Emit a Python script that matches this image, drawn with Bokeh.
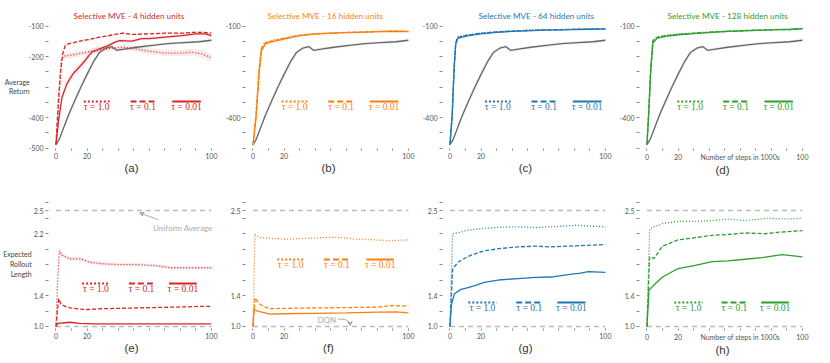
from bokeh.plotting import figure
from bokeh.layouts import gridplot
from bokeh.models import Label, FixedTicker, Range1d, Arrow, VeeHead, Title
from bokeh.embed import file_html
from bokeh.resources import INLINE

# ---------------- DATA ----------------
# shared DQN baseline (grey) for average return, steps in 1000s
steps_base = [0, 2, 5, 8, 12, 16, 20, 24, 28, 32, 36, 39, 44, 52, 62, 72, 82, 92, 100]
ret_base = [-488, -472, -432, -392, -345, -300, -258, -218, -186, -172, -167, -179, -175, -169, -163, -157, -154, -151, -146]
ret_base_sd = [2, 5, 9, 11, 12, 12, 12, 10, 8, 6, 5, 5, 5, 5, 5, 5, 5, 5, 5]

# (a) 4 hidden units
steps4_t1 = [0, 1.5, 3.4, 5, 8, 12, 17, 22, 28, 33, 38, 44, 51, 60, 70, 81, 87, 94, 100]
ret4_t1 = [-488, -380, -213, -198, -196, -193, -188, -183, -177, -174, -171, -169, -174, -182, -188, -188, -185, -191, -204]
ret4_t1_sd = [0, 8, 10, 10, 10, 9, 9, 8, 8, 8, 8, 8, 9, 10, 10, 10, 11, 12, 14]
steps4_t01 = [0, 1.5, 2.8, 4.3, 6, 8, 12, 17, 22, 28, 33, 38, 43, 49, 60, 70, 81, 88, 94, 100]
ret4_t01 = [-488, -350, -256, -191, -163, -158, -153, -147, -143, -136, -132, -127, -123, -127, -125, -123, -123, -120, -120, -123]
ret4_t01_sd = [0, 4, 4, 4, 3, 3, 3, 3, 3, 3, 3, 3, 3, 3, 3, 3, 3, 3, 3, 3]
steps4_t001 = [0, 1.7, 3.9, 7, 11, 17, 23, 28, 34, 38, 41, 49, 55, 60, 70, 81, 90, 96, 100]
ret4_t001 = [-488, -409, -333, -289, -256, -223, -185, -174, -163, -152, -147, -149, -141, -141, -136, -131, -125, -125, -131]
ret4_t001_sd = [0, 6, 12, 14, 14, 13, 11, 9, 7, 6, 6, 5, 5, 5, 5, 5, 5, 5, 5]

# (b) 16 hidden units
steps16 = [0, 2, 4, 5.5, 8, 12, 20, 30, 40, 50, 60, 70, 80, 90, 100]
ret16_t1 = [-490, -380, -230, -168, -152, -147, -138, -129, -124, -122, -121, -118, -117, -115, -116]
ret16_t01 = [-490, -390, -240, -172, -155, -149, -140, -130, -125, -123, -120, -119, -118, -116, -117]
ret16_t001 = [-490, -400, -252, -180, -158, -151, -142, -131, -126, -123, -121, -120, -118, -117, -118]

# (c) 64 hidden units
steps64 = [0, 1.5, 2.6, 3.7, 5, 8, 12, 20, 30, 40, 50, 60, 70, 80, 90, 100]
ret64_t1 = [-488, -380, -233, -150, -135, -131, -128, -122, -118, -116, -113, -112, -111, -110, -109, -108]
ret64_t01 = [-488, -385, -240, -155, -137, -133, -129, -123, -119, -116, -114, -112, -112, -110, -110, -109]
ret64_t001 = [-488, -390, -250, -160, -140, -136, -131, -125, -120, -117, -115, -113, -112, -111, -110, -109]

# (d) 128 hidden units
steps128 = [0, 1.2, 2.4, 3.8, 6.6, 12, 20, 30, 42, 52, 63, 75, 85, 92, 100]
ret128_t1 = [-488, -370, -234, -145, -135, -130, -126, -122, -118, -116, -114, -113, -110, -112, -107]
ret128_t01 = [-488, -375, -240, -148, -137, -131, -127, -123, -119, -117, -114, -112, -111, -111, -108]
ret128_t001 = [-488, -380, -250, -155, -139, -133, -128, -124, -120, -117, -115, -113, -111, -110, -108]

# (e) expected rollout length, 4 hidden units
lsteps4_t1 = [0, 1, 2.2, 4, 9, 16, 22, 31, 41, 52, 63, 74, 85, 100]
len4_t1 = [1.0, 1.55, 1.98, 1.92, 1.875, 1.875, 1.83, 1.81, 1.80, 1.80, 1.79, 1.76, 1.76, 1.76]
len4_t1_sd = [0, 0.02, 0.03, 0.03, 0.025, 0.025, 0.02, 0.02, 0.02, 0.02, 0.02, 0.02, 0.02, 0.02]
lsteps4_t01 = [0, 1.7, 3.2, 6, 9, 15, 20, 30, 40, 52, 63, 74, 85, 92, 100]
len4_t01 = [1.0, 1.36, 1.29, 1.26, 1.24, 1.225, 1.22, 1.23, 1.235, 1.24, 1.245, 1.25, 1.255, 1.26, 1.26]
lsteps4_t001 = [0, 1.3, 4, 9, 15, 25, 50, 75, 100]
len4_t001 = [1.0, 1.04, 1.045, 1.055, 1.04, 1.034, 1.034, 1.034, 1.034]

# (f) 16 hidden units
lsteps16_t1 = [0, 1.3, 3, 5, 10, 22, 35, 50, 58, 65, 75, 87, 100]
len16_t1 = [1.0, 2.20, 2.17, 2.15, 2.14, 2.13, 2.14, 2.155, 2.15, 2.13, 2.125, 2.11, 2.12]
lsteps16_t01 = [0, 1.3, 3, 5, 8, 11, 20, 40, 60, 80, 89, 100]
len16_t01 = [1.0, 1.37, 1.32, 1.28, 1.25, 1.23, 1.235, 1.24, 1.245, 1.25, 1.27, 1.265]
lsteps16_t001 = [0, 0.6, 1.7, 5, 11, 20, 40, 60, 80, 92, 100]
len16_t001 = [1.0, 1.23, 1.21, 1.19, 1.16, 1.165, 1.17, 1.175, 1.185, 1.19, 1.175]

# (g) 64 hidden units
lsteps64_t1 = [0, 1.7, 5, 11, 22, 33, 44, 55, 65, 75, 81, 89, 100]
len64_t1 = [1.0, 2.20, 2.21, 2.245, 2.27, 2.285, 2.29, 2.28, 2.29, 2.30, 2.31, 2.30, 2.29]
lsteps64_t01 = [0, 1.7, 5, 11, 16, 22, 33, 44, 55, 65, 76, 88, 100]
len64_t01 = [1.0, 1.74, 1.83, 1.90, 1.94, 1.98, 2.01, 2.03, 2.04, 2.03, 2.04, 2.05, 2.06]
lsteps64_t001 = [0, 1, 2.8, 7, 11, 16, 22, 33, 44, 55, 65, 76, 84, 89, 100]
len64_t001 = [1.0, 1.29, 1.42, 1.48, 1.50, 1.53, 1.57, 1.605, 1.62, 1.635, 1.64, 1.67, 1.69, 1.71, 1.70]

# (h) 128 hidden units
lsteps128_t1 = [0, 1.7, 4.5, 10, 20, 31, 42, 52, 63, 78, 89, 100]
len128_t1 = [1.0, 2.26, 2.29, 2.33, 2.36, 2.36, 2.37, 2.39, 2.37, 2.40, 2.39, 2.40]
lsteps128_t01 = [0, 1.7, 4.5, 10, 20, 31, 42, 52, 63, 76, 85, 100]
len128_t01 = [1.0, 1.90, 1.88, 2.04, 2.12, 2.15, 2.18, 2.19, 2.21, 2.20, 2.22, 2.24]
lsteps128_t001 = [0, 1.3, 5.6, 10, 20, 31, 42, 52, 63, 74, 87, 100]
len128_t001 = [1.0, 1.47, 1.56, 1.64, 1.75, 1.79, 1.84, 1.85, 1.87, 1.89, 1.93, 1.90]

# reference levels in the rollout-length row
uniform_average = 2.5
dqn_length = 1.0
ref_span = [0, 100]

# ticks and labels
step_ticks = [0, 10, 20, 30, 40, 50, 60, 70, 80, 90, 100]
step_labels = {0: "0", 20: "20", 100: "100"}
step_labels_last = {0: "0", 20: "20", 60: "Number of steps in 1000s", 100: "100"}
ret_ticks = [-500, -450, -400, -350, -300, -250, -200, -150, -100]
ret_labels_first = {-100: "-100", -200: "-200", -400: "-400", -500: "-500"}
ret_labels_other = {-100: "-100", -400: "-400"}
len_ticks = [1.0, 1.2, 1.4, 1.6, 1.8, 2.0, 2.2, 2.4, 2.5, 2.6]
len_labels_first = {1.0: "1.0", 1.4: "1.4", 2.2: "2.2", 2.5: "2.5"}
len_labels_other = {1.0: "1.0", 1.4: "1.4", 2.5: "2.5"}

titles = ["Selective MVE - 4 hidden units", "Selective MVE - 16 hidden units",
          "Selective MVE - 64 hidden units", "Selective MVE - 128 hidden units"]
captions_top = ["(a)", "(b)", "(c)", "(d)"]
captions_bottom = ["(e)", "(f)", "(g)", "(h)"]
tau_labels = ["\u03c4 = 1.0", "\u03c4 = 0.1", "\u03c4 = 0.01"]
ylabel_top = "Average\nReturn"
ylabel_bottom = "Expected\nRollout\nLength"

# ---------------- STYLE / LAYOUT ----------------
colors = ["#d62728", "#ff7f0e", "#1f77b4", "#2ca02c"]
curve_dash = ["1 2", "4 2", "solid"]
legend_dash = ["2 2", "6 3", "solid"]
FONT = "Lato"
TICK_COLOR = "#555555"

FRAME_W = 166
X_RANGE = (-4.8, 102)
TOP_RANGE = (-501, -94.4)
BOT_RANGE = (0.974, 2.643)

title_offset = [25, 22, 36, 28]

leg_top_x = [[17.9, 48, 74.8], [18.4, 48.4, 75.2], [22.5, 52.5, 79], [19.5, 49, 75.6]]
leg_top_x1 = [[34.5, 64, 93.2], [35.1, 65.1, 93.4], [39, 68.6, 97.5], [36, 65.6, 93.9]]
leg_top_line_y, leg_top_text_y = -347, -365
leg_bot_x = [[16.8, 46.9, 72.7], [15.6, 45.7, 73], [11.8, 42.6, 69], [17.6, 48, 73.5]]
leg_bot_x1 = [[34.6, 63, 90.6], [32.8, 62.4, 90.7], [30, 59.4, 87.2], [36, 64.5, 91.3]]
leg_bot_line_y = [1.556, 1.867, 1.31, 1.31]
leg_bot_text_y = [1.485, 1.80, 1.242, 1.242]

top_series = [
    [(steps4_t1, ret4_t1, ret4_t1_sd), (steps4_t01, ret4_t01, ret4_t01_sd), (steps4_t001, ret4_t001, ret4_t001_sd)],
    [(steps16, ret16_t1, None), (steps16, ret16_t01, None), (steps16, ret16_t001, None)],
    [(steps64, ret64_t1, None), (steps64, ret64_t01, None), (steps64, ret64_t001, None)],
    [(steps128, ret128_t1, None), (steps128, ret128_t01, None), (steps128, ret128_t001, None)],
]
bot_series = [
    [(lsteps4_t1, len4_t1, len4_t1_sd), (lsteps4_t01, len4_t01, None), (lsteps4_t001, len4_t001, None)],
    [(lsteps16_t1, len16_t1, None), (lsteps16_t01, len16_t01, None), (lsteps16_t001, len16_t001, None)],
    [(lsteps64_t1, len64_t1, None), (lsteps64_t01, len64_t01, None), (lsteps64_t001, len64_t001, None)],
    [(lsteps128_t1, len128_t1, None), (lsteps128_t01, len128_t01, None), (lsteps128_t001, len128_t001, None)],
]


def add_text(p, x, y, text, size, color, align="center", font=FONT):
    p.add_layout(Label(x=x, y=y, text=text, text_font=font, text_font_size=f"{size}px",
                       text_color=color, text_align=align, text_baseline="middle"))


def make_fig(col, row):
    bl = 45 if col == 0 else 25
    br = 16 if col == 3 else 6
    if row == 0:
        bt, fh, bb, yr = 24, 124, 30, TOP_RANGE
    else:
        bt, fh, bb, yr = 21, 129, 33, BOT_RANGE
    p = figure(frame_width=FRAME_W, frame_height=fh,
               x_range=Range1d(*X_RANGE), y_range=Range1d(*yr),
               min_border_left=bl, min_border_right=br, min_border_top=bt, min_border_bottom=bb,
               toolbar_location=None, output_backend="svg")
    p.outline_line_color = None
    p.xgrid.visible = False
    p.ygrid.visible = False
    p.background_fill_color = "white"
    p.border_fill_color = "white"
    # axes
    p.xaxis.ticker = FixedTicker(ticks=step_ticks)
    slab = step_labels_last if col == 3 else step_labels
    p.xaxis.major_label_overrides = {t: slab.get(t, "") for t in step_ticks}
    if row == 0:
        p.yaxis.ticker = FixedTicker(ticks=ret_ticks)
        lab = ret_labels_first if col == 0 else ret_labels_other
        p.yaxis.major_label_overrides = {t: lab.get(t, "") for t in ret_ticks}
    else:
        p.yaxis.ticker = FixedTicker(ticks=len_ticks)
        lab = len_labels_first if col == 0 else len_labels_other
        p.yaxis.major_label_overrides = {t: lab.get(t, "") for t in len_ticks}
    for ax in (p.xaxis[0], p.yaxis[0]):
        ax.axis_line_color = None
        ax.major_tick_line_color = "#888888"
        ax.major_tick_line_width = 1
        ax.major_tick_in = 0
        ax.minor_tick_line_color = None
        ax.major_label_text_font = FONT
        ax.major_label_text_font_size = "7px"
        ax.major_label_text_color = TICK_COLOR
    p.xaxis.major_tick_out = 2
    p.xaxis.major_label_standoff = 2
    p.yaxis.major_tick_out = 3
    p.yaxis.major_label_standoff = 2
    # panel caption as the x-axis label
    p.xaxis.axis_label = (captions_top if row == 0 else captions_bottom)[col]
    p.xaxis.axis_label_text_font = "Liberation Sans"
    p.xaxis.axis_label_text_font_size = "11.5px"
    p.xaxis.axis_label_text_font_style = "normal"
    p.xaxis.axis_label_text_color = "#333333"
    p.xaxis.axis_label_standoff = 0
    if col == 0:
        p.yaxis.axis_label = ylabel_top if row == 0 else ylabel_bottom
        p.yaxis.axis_label_orientation = "horizontal"
        p.yaxis.axis_label_text_font = FONT
        p.yaxis.axis_label_text_font_size = "7px"
        p.yaxis.axis_label_text_font_style = "normal"
        p.yaxis.axis_label_text_color = "#444444"
        p.yaxis.axis_label_standoff = -4 if row == 0 else -1
    return p


figs_top, figs_bot = [], []
for col in range(4):
    c = colors[col]
    # ---------- top row: average return ----------
    p = make_fig(col, 0)
    p.add_layout(Title(text=titles[col], align="left", offset=title_offset[col], standoff=7,
                       text_font=FONT, text_font_size="8.2px", text_font_style="normal",
                       text_color=c), "above")
    p.varea(x=steps_base, y1=[v - s for v, s in zip(ret_base, ret_base_sd)],
            y2=[v + s for v, s in zip(ret_base, ret_base_sd)], fill_color="#999999", fill_alpha=0.15)
    for (xs, ys, sd) in top_series[col]:
        if sd is not None:
            p.varea(x=xs, y1=[v - s for v, s in zip(ys, sd)], y2=[v + s for v, s in zip(ys, sd)],
                    fill_color=c, fill_alpha=0.1)
    p.line(steps_base, ret_base, line_color="#666666", line_width=1.3)
    for k, (xs, ys, sd) in enumerate(top_series[col]):
        p.line(xs, ys, line_color=c, line_width=1.3, line_dash=curve_dash[k])
    for k in range(3):
        x0, x1 = leg_top_x[col][k], leg_top_x1[col][k]
        p.segment(x0=[x0], y0=[leg_top_line_y], x1=[x1], y1=[leg_top_line_y],
                  line_color=c, line_width=2, line_dash=legend_dash[k])
        add_text(p, (x0 + x1) / 2, leg_top_text_y, tau_labels[k], 9.5, c, font="Liberation Serif")
    figs_top.append(p)

    # ---------- bottom row: expected rollout length ----------
    q = make_fig(col, 1)
    for lvl in (uniform_average, dqn_length):
        q.line(ref_span, [lvl, lvl], line_color="#bbbbbb", line_width=1.5, line_dash="5 4")
    for (xs, ys, sd) in bot_series[col]:
        if sd is not None:
            q.varea(x=xs, y1=[v - s for v, s in zip(ys, sd)], y2=[v + s for v, s in zip(ys, sd)],
                    fill_color=c, fill_alpha=0.1)
    for k, (xs, ys, sd) in enumerate(bot_series[col]):
        q.line(xs, ys, line_color=c, line_width=1.3, line_dash=curve_dash[k])
    for k in range(3):
        x0, x1 = leg_bot_x[col][k], leg_bot_x1[col][k]
        q.segment(x0=[x0], y0=[leg_bot_line_y[col]], x1=[x1], y1=[leg_bot_line_y[col]],
                  line_color=c, line_width=2, line_dash=legend_dash[k])
        add_text(q, (x0 + x1) / 2, leg_bot_text_y[col], tau_labels[k], 9.5, c, font="Liberation Serif")
    if col == 0:
        add_text(q, 62.5, 2.28, "Uniform Average", 8, "#aaaaaa", align="left")
        q.add_layout(Arrow(end=VeeHead(size=4, line_color="#999999", line_width=1, fill_color=None),
                           x_start=66, y_start=2.38, x_end=54, y_end=2.47,
                           line_color="#999999", line_width=0.8))
    if col == 1:
        add_text(q, 47.5, 1.09, "DQN", 8, "#aaaaaa")
        q.bezier(x0=[54.5], y0=[1.095], x1=[62.5], y1=[1.03], cx0=[59], cy0=[1.1],
                 cx1=[62.3], cy1=[1.08], line_color="#999999", line_width=0.8)
        q.add_layout(Arrow(end=VeeHead(size=4, line_color="#999999", line_width=1, fill_color=None),
                           x_start=62.5, y_start=1.035, x_end=62.6, y_end=1.012,
                           line_color="#999999", line_width=0.8))
    figs_bot.append(q)

grid = gridplot([figs_top, figs_bot], toolbar_location=None)
open("out.html", "w").write(file_html(grid, INLINE))
